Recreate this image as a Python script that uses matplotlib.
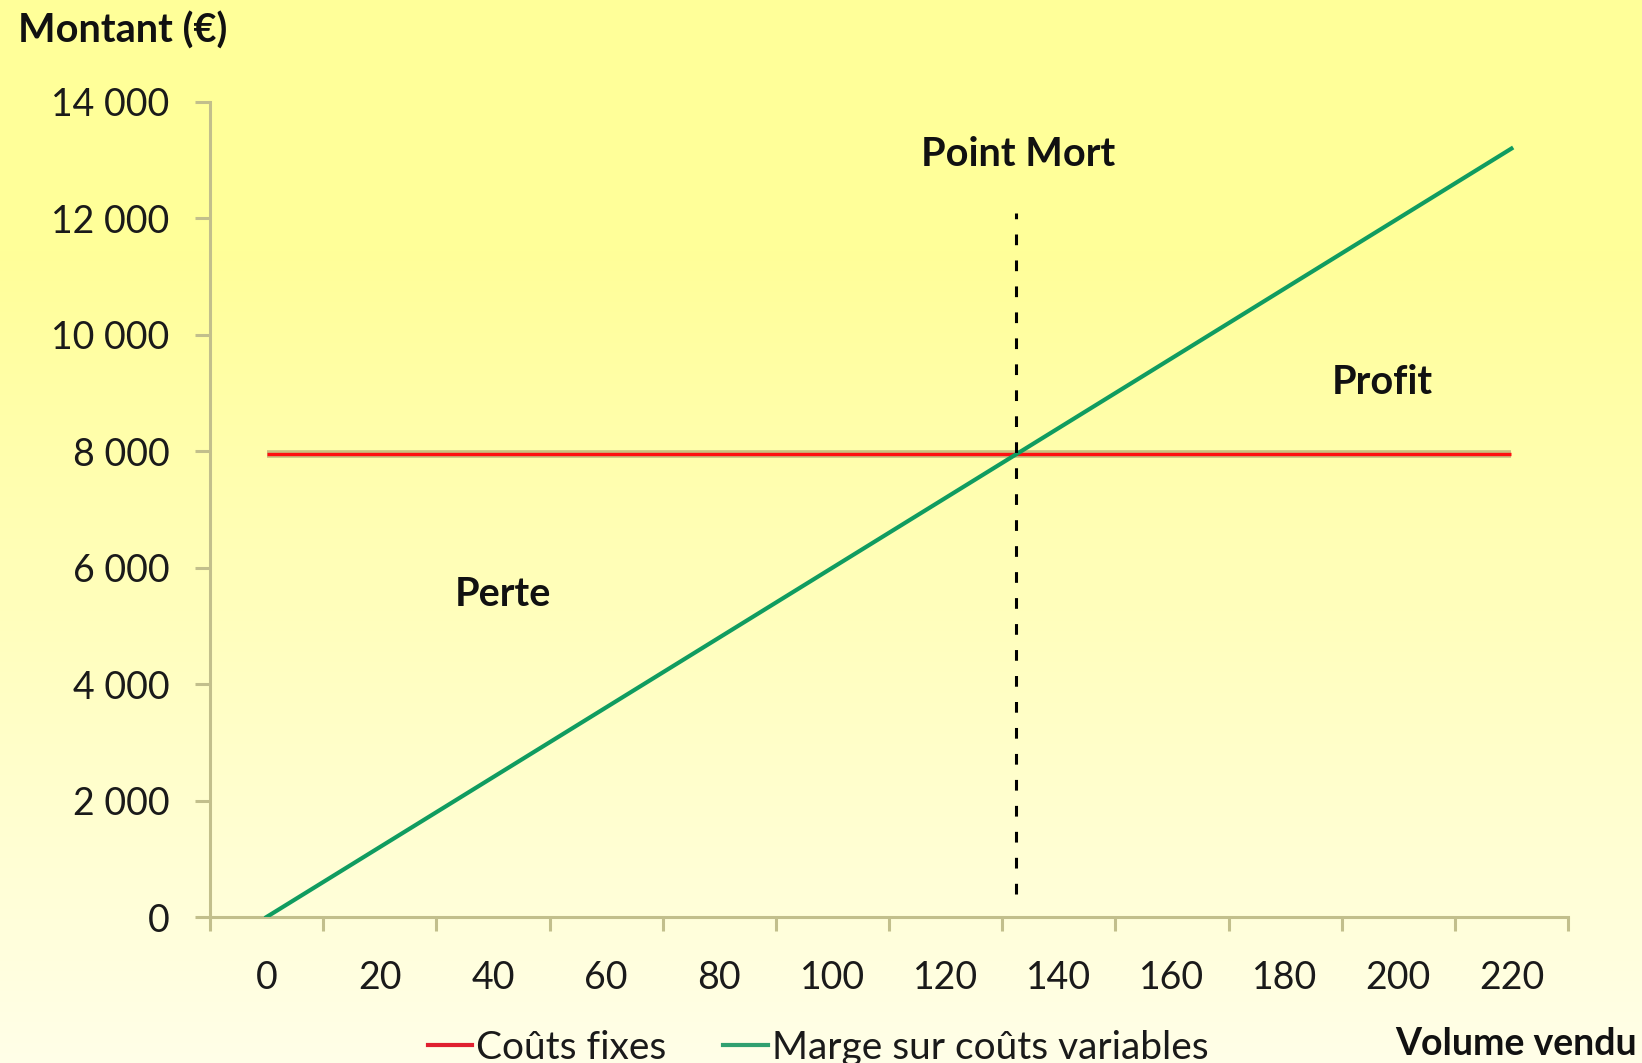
import numpy as np
import matplotlib
matplotlib.use('Agg')
import matplotlib.pyplot as plt
from matplotlib.lines import Line2D

plt.rcParams['font.family'] = ['Lato', 'DejaVu Sans']

volumes = [0, 20, 40, 60, 80, 100, 120, 140, 160, 180, 200, 220]
couts_fixes = [7950] * 12
marge = [0, 1200, 2400, 3600, 4800, 6000, 7200, 8400, 9600, 10800, 12000, 13200]
point_mort = 132.5  # volume au point mort
point_mort_y = [400, 12100]

W, H = 1642, 1063
fig = plt.figure(figsize=(W / 100, H / 100), dpi=100)

# fond degrade jaune
bg = fig.add_axes([0, 0, 1, 1], zorder=-5)
rows = np.arange(H)
t = np.clip((rows - 250) / (H - 250), 0, 1)
top = np.array([255, 255, 153]) / 255
bot = np.array([255, 254, 232]) / 255
grad = top[None, :] * (1 - t[:, None]) + bot[None, :] * t[:, None]
bg.imshow(grad[:, None, :], aspect='auto', extent=[0, 1, 0, 1])
bg.axis('off')

ax = fig.add_axes([210 / W, 1 - 917 / H, (1568 - 210) / W, (917 - 102) / H])
ax.patch.set_alpha(0)

idx = np.arange(len(volumes))
ax.plot(idx, couts_fixes, color='#c8c080', lw=5.5, zorder=2, solid_capstyle='butt')
ax.plot(idx, couts_fixes, color='#ff1010', lw=2.4, zorder=3, solid_capstyle='butt')
ax.plot(idx, marge, color='#109c60', lw=3.0, zorder=4)

# position du point mort en index de categorie
pm_idx = point_mort / 20
ax.plot([pm_idx, pm_idx], point_mort_y, color='black', lw=2.2, ls=(0, (3.5, 5)), zorder=5)

ax.set_xlim(-0.5, len(volumes) - 0.5)
ax.set_ylim(0, 14000)

axc = '#c2bf8c'
for s in ['top', 'right']:
    ax.spines[s].set_visible(False)
for s in ['left', 'bottom']:
    ax.spines[s].set_color(axc)
    ax.spines[s].set_linewidth(2.2)

yt = np.arange(0, 14001, 2000)
ax.set_yticks(yt)
ax.set_yticklabels([f'{v:,}'.replace(',', ' ') for v in yt])
ax.tick_params(axis='y', length=11, width=2.2, color=axc, pad=18, labelsize=27, labelcolor='#1a1a1a')

ax.set_xticks(np.arange(-0.5, len(volumes), 1))
ax.set_xticklabels([])
ax.set_xticks(idx, minor=True)
ax.set_xticklabels([str(v) for v in volumes], minor=True)
ax.tick_params(axis='x', which='major', length=10, width=2.2, color=axc)
ax.tick_params(axis='x', which='minor', length=0, pad=31, labelsize=27, labelcolor='#1a1a1a')

fig.text(18 / W, 1 - 31 / H, 'Montant (€)', fontsize=28.5, fontweight='bold', ha='left', va='center', color='#111111')
fig.text(1018 / W, 1 - 154 / H, 'Point Mort', fontsize=28.5, fontweight='bold', ha='center', va='center', color='#111111')
fig.text(1382 / W, 1 - 383 / H, 'Profit', fontsize=28.5, fontweight='bold', ha='center', va='center', color='#111111')
fig.text(503 / W, 1 - 594 / H, 'Perte', fontsize=28.5, fontweight='bold', ha='center', va='center', color='#111111')
fig.text(1637 / W, 1 - 1044 / H, 'Volume vendu', fontsize=27, fontweight='bold', ha='right', va='center', color='#111111')

handles = [Line2D([], [], color='#e02030', lw=3), Line2D([], [], color='#30a070', lw=3)]
fig.legend(handles, ['Coûts fixes', 'Marge sur coûts variables'], loc='center',
           bbox_to_anchor=(818 / W, 1 - 1048 / H), ncol=2, frameon=False, fontsize=28,
           handlelength=1.15, handletextpad=0.1, columnspacing=1.45, labelcolor='#1a1a1a')

fig.savefig('out.png', dpi=100)
